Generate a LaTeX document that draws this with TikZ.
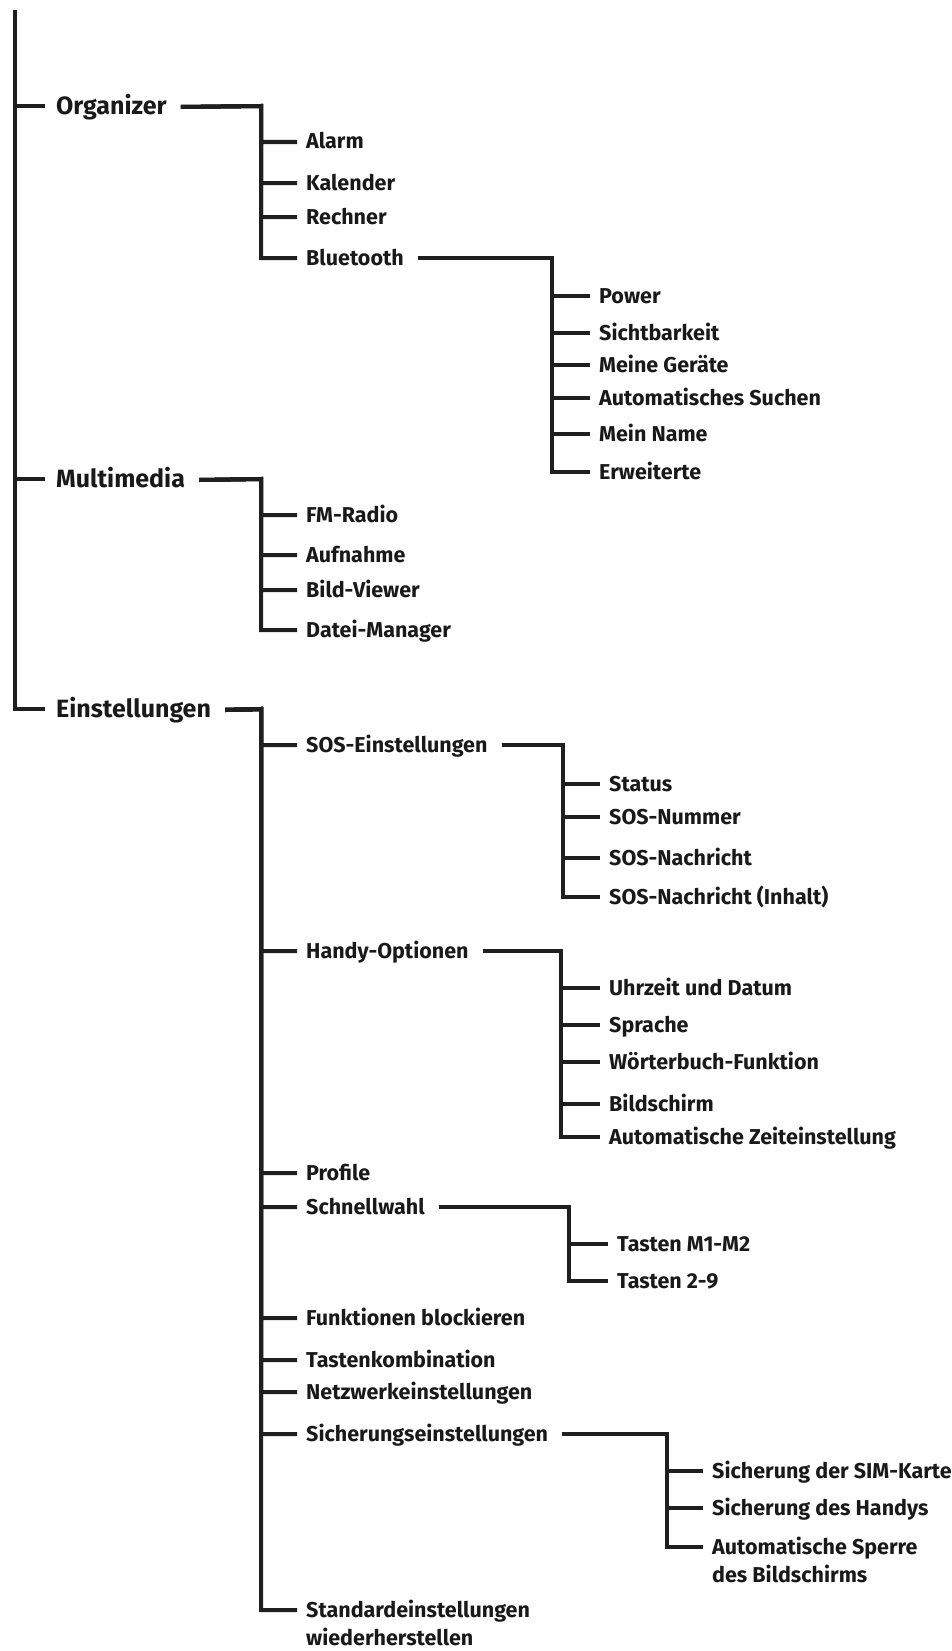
\documentclass[tikz,border=0pt]{standalone}
\usepackage{fontspec}
\setmainfont{Fira Sans}
\usetikzlibrary{calc}

% connector: parent -> bus corner -> child (optional: height of the child's row above its base)
\newcommand{\branch}[4][7pt]{\draw[link] ([shift={(14pt,7pt)}]#2.base east) -- (#3) |- ([shift={(-9pt,#1)}]#4.base west);}

\begin{document}
\begin{tikzpicture}[x=1pt, y=-1pt,
	link/.style={line width=4pt, black!88},
	top/.style={anchor=base west, inner sep=0pt, text=black!90, font=\bfseries\fontsize{25}{29}\selectfont},
	item/.style={anchor=base west, inner sep=0pt, text=black!90, align=left, font=\bfseries\fontsize{21.5}{28}\selectfont}]
	\useasboundingbox (0,0) rectangle (951,1651);

	% first level
	\coordinate (root) at (15,10);
	\node[top] (org) at (56,114) {Organizer};
	\node[top] (mm) at (56,487) {Multimedia};
	\node[top] (ein) at (56,717) {Einstellungen};
	\draw[link] (root) |- ([shift={(-11pt,8pt)}]org.base west);
	\draw[link] (root) |- ([shift={(-11pt,8pt)}]mm.base west);
	\draw[link] (root) |- ([shift={(-11pt,8pt)}]ein.base west);

	% Organizer
	\coordinate (orgbus) at (261,106);
	\node[item] (alarm) at (306,149) {Alarm};
	\node[item] (kal) at (306,190) {Kalender};
	\node[item] (rech) at (306,224) {Rechner};
	\node[item] (bt) at (306,265) {Bluetooth};
	\branch{org}{orgbus}{alarm}
	\branch{org}{orgbus}{kal}
	\branch{org}{orgbus}{rech}
	\branch{org}{orgbus}{bt}

	% Bluetooth
	\coordinate (btbus) at (552,258);
	\node[item] (power) at (599,303) {Power};
	\node[item] (sicht) at (599,340) {Sichtbarkeit};
	\node[item] (geraete) at (599,372) {Meine Geräte};
	\node[item] (suchen) at (599,405) {Automatisches Suchen};
	\node[item] (name) at (599,441) {Mein Name};
	\node[item] (erw) at (599,479) {Erweiterte};
	\branch{bt}{btbus}{power}
	\branch{bt}{btbus}{sicht}
	\branch{bt}{btbus}{geraete}
	\branch{bt}{btbus}{suchen}
	\branch{bt}{btbus}{name}
	\branch{bt}{btbus}{erw}

	% Multimedia
	\coordinate (mmbus) at (261,479);
	\node[item] (radio) at (306,522) {FM-Radio};
	\node[item] (aufn) at (306,562) {Aufnahme};
	\node[item] (viewer) at (306,597) {Bild-Viewer};
	\node[item] (datei) at (306,637) {Datei-Manager};
	\branch{mm}{mmbus}{radio}
	\branch{mm}{mmbus}{aufn}
	\branch{mm}{mmbus}{viewer}
	\branch{mm}{mmbus}{datei}

	% Einstellungen
	\coordinate (einbus) at (261,709);
	\node[item] (sos) at (306,752) {SOS-Einstellungen};
	\node[item] (handy) at (306,958) {Handy-Optionen};
	\node[item] (profile) at (306,1180) {Profile};
	\node[item] (schnell) at (306,1214) {Schnellwahl};
	\node[item] (funk) at (306,1325) {Funktionen blockieren};
	\node[item] (kombi) at (306,1367) {Tastenkombination};
	\node[item] (netz) at (306,1399) {Netzwerkeinstellungen};
	\node[item] (sicher) at (306,1441) {Sicherungseinstellungen};
	\node[item] (standard) at (306,1645) {Standardeinstellungen\\wiederherstellen};
	\branch{ein}{einbus}{sos}
	\branch{ein}{einbus}{handy}
	\branch{ein}{einbus}{profile}
	\branch{ein}{einbus}{schnell}
	\branch{ein}{einbus}{funk}
	\branch{ein}{einbus}{kombi}
	\branch{ein}{einbus}{netz}
	\branch{ein}{einbus}{sicher}
	\branch[35pt]{ein}{einbus}{standard}

	% SOS-Einstellungen
	\coordinate (sosbus) at (563,745);
	\node[item] (status) at (609,791) {Status};
	\node[item] (nummer) at (609,824) {SOS-Nummer};
	\node[item] (nachr) at (609,865) {SOS-Nachricht};
	\node[item] (inhalt) at (609,904) {SOS-Nachricht (Inhalt)};
	\branch{sos}{sosbus}{status}
	\branch{sos}{sosbus}{nummer}
	\branch{sos}{sosbus}{nachr}
	\branch{sos}{sosbus}{inhalt}

	% Handy-Optionen
	\coordinate (hobus) at (561,951);
	\node[item] (uhr) at (609,995) {Uhrzeit und Datum};
	\node[item] (sprache) at (609,1032) {Sprache};
	\node[item] (woerter) at (609,1069) {Wörterbuch-Funktion};
	\node[item] (schirm) at (609,1111) {Bildschirm};
	\node[item] (zeit) at (609,1144) {Automatische Zeiteinstellung};
	\branch{handy}{hobus}{uhr}
	\branch{handy}{hobus}{sprache}
	\branch{handy}{hobus}{woerter}
	\branch{handy}{hobus}{schirm}
	\branch{handy}{hobus}{zeit}

	% Schnellwahl
	\coordinate (swbus) at (569,1207);
	\node[item] (mtasten) at (617,1251) {Tasten M1-M2};
	\node[item] (ztasten) at (617,1288) {Tasten 2-9};
	\branch{schnell}{swbus}{mtasten}
	\branch{schnell}{swbus}{ztasten}

	% Sicherungseinstellungen
	\coordinate (sibus) at (667,1434);
	\node[item] (sim) at (712,1478) {Sicherung der SIM-Karte};
	\node[item] (handys) at (712,1515) {Sicherung des Handys};
	\node[item] (sperre) at (712,1582) {Automatische Sperre\\des Bildschirms};
	\branch{sicher}{sibus}{sim}
	\branch{sicher}{sibus}{handys}
	\branch[35pt]{sicher}{sibus}{sperre}
\end{tikzpicture}
\end{document}
